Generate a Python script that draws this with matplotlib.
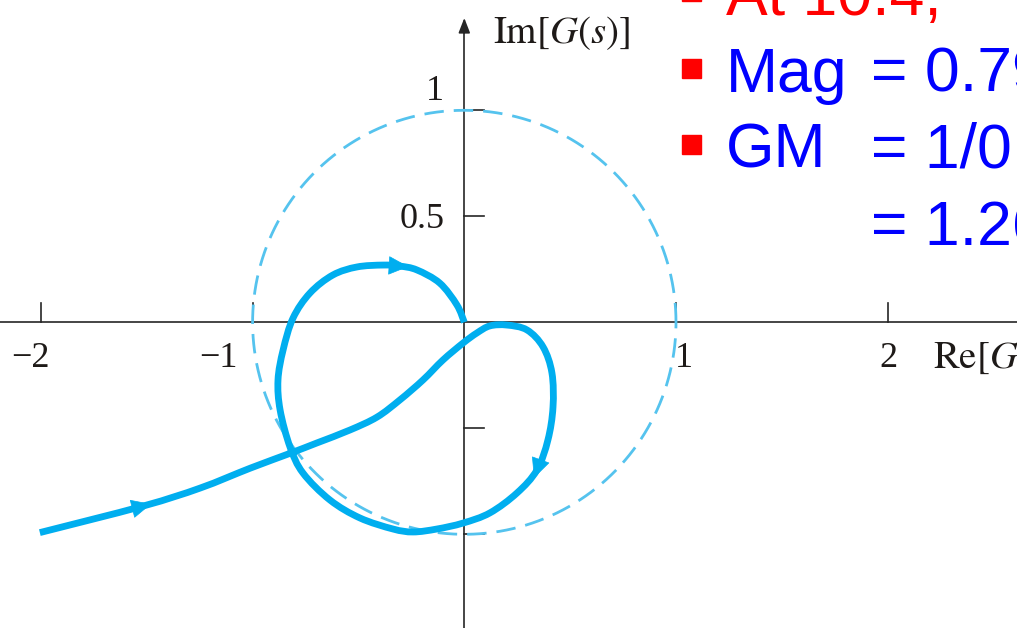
import numpy as np
import matplotlib
matplotlib.use("Agg")
import matplotlib.pyplot as plt
from matplotlib.path import Path
from matplotlib.patches import PathPatch

# ── Nyquist path of G(s), in order of increasing frequency ───────────────────

re_g = [-2.005, -1.518, -1.248, -1.011, -0.823, -0.696, -0.540, -0.412,
        -0.304, -0.195, -0.101, -0.006, 0.060, 0.121, 0.201, 0.296,
        0.372, 0.414, 0.419, 0.395, 0.343, 0.249, 0.121, -0.006,
        -0.129, -0.242, -0.337, -0.493, -0.635, -0.762, -0.823, -0.870,
        -0.880, -0.856, -0.809, -0.729, -0.621, -0.507, -0.384, -0.304,
        -0.224, -0.116, -0.035, 0.0]
im_g = [-0.992, -0.867, -0.782, -0.688, -0.618, -0.569, -0.508, -0.447,
        -0.366, -0.272, -0.178, -0.098, -0.050, -0.017, -0.013, -0.036,
        -0.116, -0.239, -0.400, -0.555, -0.697, -0.805, -0.899, -0.947,
        -0.975, -0.989, -0.975, -0.923, -0.838, -0.711, -0.589, -0.414,
        -0.272, -0.131, 0.020, 0.138, 0.223, 0.261, 0.270, 0.265,
        0.247, 0.185, 0.082, 0.0]
arrow_idx = [1, 20, 39]          # direction arrows placed at these samples

unit_radius = 1.0

x_ticks = [-2, -1, 1, 2]
x_tick_labels = ["\u22122", "\u22121", "1", "2"]
y_ticks = [1, 0.5, -0.5, -1]
y_tick_labels = ["1", "0.5", "", ""]

bullets = ["At 10.4,", "Mag", "GM", ""]
values = ["", "= 0.79", "= 1/0.79", "= 1.26"]
bullet_colors = ["red", "blue", "blue", "blue"]


def smooth_path(xs, ys):
    """Catmull-Rom through the samples, as cubic Bezier segments."""
    p = np.column_stack([xs, ys])
    p = np.vstack([p[0], p, p[-1]])
    verts = [p[1]]
    codes = [Path.MOVETO]
    for k in range(1, len(p) - 2):
        c1 = p[k] + (p[k + 1] - p[k - 1]) / 6
        c2 = p[k + 1] - (p[k + 2] - p[k]) / 6
        verts += [c1, c2, p[k + 1]]
        codes += [Path.CURVE4] * 3
    return Path(verts, codes)


# ── Figure ────────────────────────────────────────────────────────────────────

W, H = 1017, 628
fig = plt.figure(figsize=(W / 100, H / 100), dpi=100)
ax = fig.add_axes([0, 0, 1, 1])
ax.axis("off")

# pixel scale of the complex plane
ox, oy = 464.3, 322.3
sx, sy = 211.7, 212.0
ax.set_xlim(-ox / sx, (W - ox) / sx)
ax.set_ylim(-(H - oy) / sy, oy / sy)

axis_col = "#262626"
text_col = "#1e1a18"
curve_col = "#00AEEF"
circle_col = "#55C3EE"
serif = "Liberation Serif"
plt.rcParams["mathtext.fontset"] = "stix"

# axes through the origin
ax.axhline(0, color=axis_col, lw=1.2, zorder=1)
y_top = (oy - 18) / sy
ax.plot([0, 0], [-(H - oy) / sy, y_top - 0.05], color=axis_col, lw=1.2, zorder=1)
ax.annotate("", xy=(0, y_top), xytext=(0, y_top - 0.07),
            arrowprops=dict(arrowstyle="-|>,head_length=0.9,head_width=0.35",
                            color=axis_col, lw=1.2, shrinkA=0, shrinkB=0))

for t in x_ticks:
    ax.plot([t, t], [0, 19 / sy], color=axis_col, lw=1.2, zorder=1)
for t in y_ticks:
    ax.plot([0, 20 / sx], [t, t], color=axis_col, lw=1.2, zorder=1)

# tick labels (nudged off the curves as in a hand-set figure)
x_lab_pos = [(30, 367), (218, 367), (684, 367), (888, 367)]
for lab, (px, py) in zip(x_tick_labels, x_lab_pos):
    ax.text((px - ox) / sx, (oy - py) / sy, lab, family=serif, fontsize=26,
            color=text_col, ha="center", va="baseline")
y_lab_pos = [(444, 100), (445, 228), None, None]
for lab, pos in zip(y_tick_labels, y_lab_pos):
    if lab:
        px, py = pos
        ax.text((px - ox) / sx, (oy - py) / sy, lab, family=serif, fontsize=26,
                color=text_col, ha="right", va="baseline")

ax.text((493 - ox) / sx, (oy - 43) / sy, r"$\mathrm{Im}[G(s)]$", fontsize=28,
        color=text_col, ha="left", va="baseline")
ax.text((933 - ox) / sx, (oy - 368) / sy, r"$\mathrm{Re}[G(s)]$", fontsize=28,
        color=text_col, ha="left", va="baseline")

# unit circle
theta = np.linspace(0, 2 * np.pi, 400)
circ, = ax.plot(unit_radius * np.cos(theta), unit_radius * np.sin(theta),
                color=circle_col, lw=2.0, zorder=2)
circ.set_dashes((7.0, 3.6))

# Nyquist curve with direction arrows
ax.add_patch(PathPatch(smooth_path(re_g, im_g), facecolor="none",
                       edgecolor=curve_col, lw=4.9, joinstyle="round",
                       capstyle="butt", zorder=3))
for i in arrow_idx:
    tip = np.array([re_g[i], im_g[i]])
    prev = np.array([re_g[i - 1], im_g[i - 1]])
    d = (tip - prev) / np.hypot(*(tip - prev))
    ax.annotate("", xy=tip + 0.04 * d, xytext=tip - 0.06 * d,
                arrowprops=dict(arrowstyle="-|>,head_length=0.95,head_width=0.45",
                                mutation_scale=14, color=curve_col, lw=0.5,
                                shrinkA=0, shrinkB=0),
                zorder=4)

# slide bullet text, cut off at the right edge
base = [15, 92, 168, 245]
for txt, val, col, py in zip(bullets, values, bullet_colors, base):
    y = 1 - py / H
    if txt:
        fig.text(726 / W, y, txt, family="Liberation Sans", fontsize=45,
                 color=col, ha="left", va="baseline")
        fig.patches.append(plt.Rectangle((682 / W, 1 - (py - 14) / H),
                                         19 / W, 19 / H, color="red",
                                         transform=fig.transFigure))
    if val:
        fig.text(871 / W, y, val, family="Liberation Sans", fontsize=45,
                 color="blue", ha="left", va="baseline")

fig.savefig("out.png", dpi=100)
